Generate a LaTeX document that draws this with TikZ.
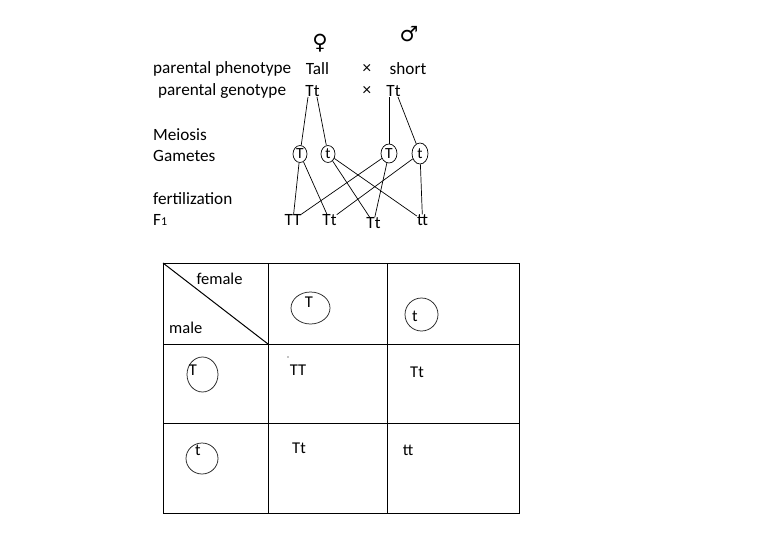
\documentclass[tikz,border=0pt]{standalone}
\usepackage{fontspec}
\setmainfont{Carlito}
\newfontfamily\symfont{DejaVu Sans}
\usetikzlibrary{shapes.geometric,calc}
\begin{document}
\begin{tikzpicture}[x=1pt,y=-1pt,
  lbl/.style={inner sep=0pt, font=\fontsize{17.2}{19}\selectfont},
  tlbl/.style={inner sep=0pt, font=\fontsize{16.5}{18}\selectfont},
  gam/.style={draw, ellipse, inner sep=0pt, minimum width=14pt, minimum height=17pt, line width=0.7pt, font=\fontsize{15.5}{17}\selectfont},
  ring/.style={draw, ellipse, inner sep=0pt, line width=0.75pt, draw=black!85},
  wire/.style={line width=0.7pt},
  grid/.style={line width=1pt}
]
\useasboundingbox (0,0) rectangle (783,543);
% sex symbols
\node[inner sep=0pt, font=\symfont\fontsize{21}{23}\selectfont] (fem) at (320,43) {♀};
\node[inner sep=0pt, font=\symfont\fontsize{21}{23}\selectfont] (mal) at (409,34) {♂};
% labels
\node[lbl,anchor=west] (phen) at (153,69) {parental phenotype};
\node[lbl,anchor=west] (gen) at (158,91) {parental genotype};
\node[lbl] (tall) at (317.5,69) {Tall};
\node[lbl] (x1) at (367,69) {×};
\node[lbl] (short) at (408,69) {short};
\node[lbl] (pgL) at (312.5,91) {Tt};
\node[lbl] (x2) at (367,91) {×};
\node[lbl] (pgR) at (393.5,91) {Tt};
\node[lbl,anchor=west] (mei) at (153,135) {Meiosis};
\node[lbl,anchor=west] (gmt) at (153,156) {Gametes};
\node[lbl,anchor=west] (fert) at (153,199) {fertilization};
\node[lbl,anchor=west] (fone) at (153,220) {F{\fontsize{12}{13}\selectfont 1}};
% gametes
\node[gam] (g1) at (300,154) {T};
\node[gam] (g2) at (328,154) {t};
\node[gam,minimum width=16pt,minimum height=19pt] (g3) at (389,153.5) {T};
\node[gam,minimum width=16pt,minimum height=21pt] (g4) at (420,153.5) {t};
% F1
\node[lbl] (f1) at (293,220) {TT};
\node[lbl] (f2) at (329.5,220) {Tt};
\node[lbl] (f3) at (373.5,223) {Tt};
\node[lbl] (f4) at (422.5,220) {tt};
% parent to gametes
\coordinate (pLT) at ($(pgL)+(-4.5,6)$);
\coordinate (pLt) at ($(pgL)+(4.5,6)$);
\coordinate (pRT) at ($(pgR)+(-4.5,6)$);
\coordinate (pRt) at ($(pgR)+(4.5,6)$);
\draw[wire] (pLT) -- (g1);
\draw[wire] (pLt) -- (g2);
\draw[wire] (pRT) -- (g3);
\draw[wire] (pRt) -- (g4);
% gametes to F1
\draw[wire] (g1) -- (f1);
\draw[wire] (g1) -- (f2);
\draw[wire] (f1) -- (g3);
\draw[wire] (g4) -- (f2);
\draw[wire] (g2) -- (f3);
\draw[wire] (g3) -- (f3);
\draw[wire] (g2) -- (f4);
\draw[wire] (g4) -- (f4);
% Punnett square
\draw[grid] (163,263) rectangle (519,513);
\draw[grid] (268,263) -- (268,513);
\draw[grid] (387,263) -- (387,513);
\draw[grid] (163,344) -- (519,344);
\draw[grid] (163,423) -- (519,423);
\draw[grid] (163,263) -- (268,344);
\node[tlbl] (fl) at (219.5,279) {female};
\node[tlbl,anchor=west] (ml) at (169,328) {male};
\node[ring,minimum width=39pt,minimum height=32pt] (cT) at (310.5,308) {};
\node[tlbl] (cTl) at (309,302) {T};
\node[ring,minimum width=33pt,minimum height=33pt] (ct) at (421.5,314.5) {};
\node[tlbl] (ctl) at (415,316) {t};
\node[ring,minimum width=31pt,minimum height=35pt] (rT) at (202.5,374.5) {};
\node[tlbl] (rTl) at (193,370) {T};
\node[ring,minimum width=32pt,minimum height=31pt] (rt) at (202,458.5) {};
\node[tlbl] (rtl) at (198,450) {t};
\node[tlbl] (c11) at (298,370) {TT};
\node[tlbl] (c12) at (417,372) {Tt};
\node[tlbl] (c21) at (299,448) {Tt};
\node[tlbl] (c22) at (408,450) {tt};
\fill (288,357) circle (0.6pt);
\end{tikzpicture}
\end{document}
